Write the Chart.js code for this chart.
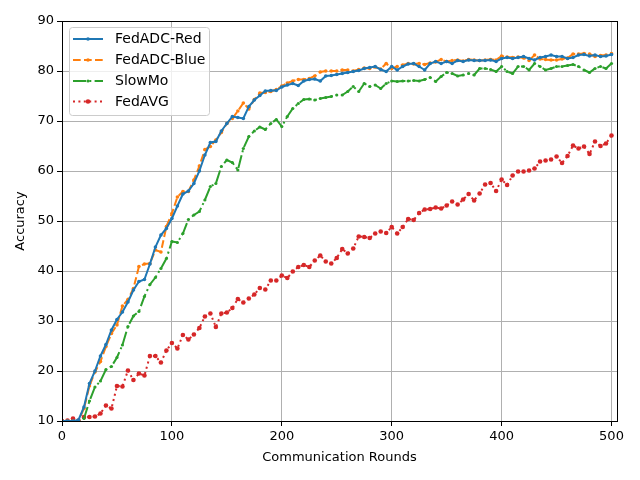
<!DOCTYPE html>
<html>
<head>
<meta charset="utf-8">
<script src="https://cdn.jsdelivr.net/npm/chart.js@4.4.1/dist/chart.umd.min.js"></script>
<style>
  html, body { margin: 0; padding: 0; background: #ffffff; }
  #wrap { width: 640px; height: 480px; }
</style>
</head>
<body>
<div id="wrap"><canvas id="accChart" width="640" height="480"></canvas></div>
<script>
// Communication rounds (x values)
const rounds = [
  0, 5, 10, 15, 20, 25, 30, 35, 40, 45, 50, 55, 60, 65, 70, 75, 80, 85, 90, 95,
  100, 105, 110, 115, 120, 125, 130, 135, 140, 145, 150, 155, 160, 165, 170, 175, 180, 185, 190, 195,
  200, 205, 210, 215, 220, 225, 230, 235, 240, 245, 250, 255, 260, 265, 270, 275, 280, 285, 290, 295,
  300, 305, 310, 315, 320, 325, 330, 335, 340, 345, 350, 355, 360, 365, 370, 375, 380, 385, 390, 395,
  400, 405, 410, 415, 420, 425, 430, 435, 440, 445, 450, 455, 460, 465, 470, 475, 480, 485, 490, 495,
  500
];

const fedAdcRed = [
  10, 10, 10, 10.2, 12.8, 17.5, 20, 23, 25.3, 28.2, 30.3, 31.8, 33.8, 36.2, 37.9, 38.3, 41.4, 44.8, 47.2, 48.5,
  50.5, 53, 55.4, 56, 57.5, 60, 63.2, 65.7, 65.9, 68, 69.5, 70.9, 70.7, 70.5, 72.9, 74.2, 75.1, 76, 76.1, 76.1,
  76.8, 77.2, 77.5, 77.1, 78, 78.3, 78.4, 78, 79, 79.1, 79.3, 79.5, 79.7, 79.9, 80.1, 80.5, 80.7, 80.9, 80.3, 79.9,
  80.9, 80.2, 80.9, 81.4, 81.5, 80.9, 80.2, 81.5, 81.9, 81.5, 81.9, 81.5, 82.1, 81.9, 82.2, 82.1, 82.1, 82.1, 82.2, 81.9,
  82.5, 82.7, 82.5, 82.7, 82.9, 82.5, 82.2, 82.7, 82.9, 83.2, 82.9, 82.9, 82.5, 82.7, 83.2, 83.3, 83, 83.2, 82.9, 83,
  83.3
];

const fedAdcBlue = [
  10, 10, 10, 10, 12.5, 17, 19.8, 21.9, 24.9, 27.5, 29.2, 33, 34.3, 36.5, 40.9, 41.4, 41.5, 44.2, 43.8, 48.9,
  51.5, 54.8, 55.9, 55.9, 58.2, 61, 64.3, 64.9, 66.2, 67.7, 69.5, 70.5, 72, 73.6, 72.4, 74.3, 75.6, 75.7, 75.9, 76.3,
  77, 77.6, 78, 78.3, 78.3, 78.5, 79, 79.8, 80, 80, 80, 80.2, 80.2, 80, 80.3, 80.6, 80.5, 80.8, 80.4, 81.5,
  80.5, 80.9, 81.2, 81.5, 81.4, 81.5, 81.3, 81.6, 81.8, 82.3, 81.9, 82.1, 82.2, 82, 82.3, 82.2, 82.1, 82.2, 82.3, 82.2,
  83, 82.8, 82.7, 82.8, 82.6, 82.1, 83.2, 82.4, 82.3, 82.2, 82.2, 82.4, 82.6, 83.4, 83.4, 83.5, 83.4, 82.9, 83.1, 83.2,
  83.5
];

const slowMo = [
  10, 10, 10, 10, 10.5, 14, 16.8, 18, 20.3, 20.9, 22.7, 25.2, 28.9, 31, 31.9, 34.9, 37.3, 38.7, 40.5, 42.5,
  45.9, 45.7, 47.5, 50.3, 51.2, 51.9, 54.2, 56.9, 57.5, 60.9, 62.2, 61.7, 60.2, 64.5, 66.9, 68, 68.8, 68.3, 69.5, 70.3,
  68.9, 70.9, 72.5, 73.5, 74.3, 74.4, 74.2, 74.5, 74.7, 74.9, 75.2, 75.2, 75.9, 76.9, 75.9, 77.5, 76.9, 77.2, 76.5, 77.5,
  78, 77.9, 78, 78, 78.1, 78, 78.3, 78.7, 77.9, 78.9, 79.7, 79.5, 79, 79.2, 79.5, 79.2, 80.5, 80.5, 80.3, 79.9,
  80.9, 79.9, 79.5, 80.9, 80.9, 80.2, 81.5, 80.9, 80.2, 80.5, 80.9, 80.9, 81.1, 81.3, 80.9, 80.2, 79.7, 80.5, 80.9, 80.5,
  81.5
];

const fedAvg = [
  10, 10.1, 10.5, 10.1, 10.8, 10.8, 10.9, 11.5, 13.1, 12.5, 17, 16.9, 20.1, 18.2, 19.5, 19.1, 23, 23, 21.7, 24.1,
  25.6, 24.5, 27.2, 26.3, 27.3, 28.6, 30.9, 31.5, 28.8, 31.5, 31.7, 32.6, 34.4, 33.7, 34.5, 35.3, 36.6, 36.3, 38.1, 38.1,
  39.1, 38.6, 39.9, 40.8, 41.2, 40.8, 42.1, 43.1, 41.9, 41.5, 42.6, 44.4, 43.5, 44.5, 46.9, 46.8, 46.6, 47.5, 47.9, 47.6,
  48.8, 47.5, 48.8, 50.4, 50.2, 51.6, 52.3, 52.4, 52.7, 52.5, 53.1, 53.9, 53.3, 54.3, 55.4, 54.1, 55.5, 57.3, 57.6, 56,
  58.3, 57.2, 59.1, 59.9, 59.9, 60.1, 60.5, 61.9, 62.1, 62.3, 62.9, 61.6, 63, 65.1, 64.5, 64.9, 63.4, 65.9, 65, 65.5,
  67.1
];

const seriesNames = ['FedADC-Red', 'FedADC-Blue', 'SlowMo', 'FedAVG'];
const xTicks = [0, 100, 200, 300, 400, 500];
const yTicks = [10, 20, 30, 40, 50, 60, 70, 80, 90];

const FONT = 'DejaVu Sans';

function toPoints(values) {
  return values.map((v, i) => ({ x: rounds[i], y: v }));
}

function makeDataset(label, values, color, dash, radius) {
  return {
    label: label,
    data: toPoints(values),
    borderColor: color,
    backgroundColor: color,
    borderWidth: 2,
    borderDash: dash,
    pointRadius: radius,
    pointHoverRadius: radius,
    pointBorderWidth: 0,
    pointBackgroundColor: color,
    tension: 0,
    fill: false
  };
}

const datasets = [
  makeDataset(seriesNames[0], fedAdcRed, '#1f77b4', [], 1.8),
  makeDataset(seriesNames[1], fedAdcBlue, '#ff7f0e', [7.7, 3.3], 1.8),
  makeDataset(seriesNames[2], slowMo, '#2ca02c', [13, 3.3, 2, 3.3], 1.6),
  makeDataset(seriesNames[3], fedAvg, '#d62728', [2, 3.4], 2.3)
];

// frame around the plot area plus a matplotlib-like legend box
const framePlugin = {
  id: 'frame',
  afterDraw(chart) {
    const { ctx, chartArea } = chart;
    ctx.save();
    ctx.strokeStyle = '#000000';
    ctx.lineWidth = 1;
    ctx.setLineDash([]);
    ctx.strokeRect(chartArea.left + 0.5, chartArea.top + 0.5,
      chartArea.right - chartArea.left, chartArea.bottom - chartArea.top);

    // legend
    const bx = 69.5, by = 27.5, bw = 140, bh = 88, r = 3;
    ctx.beginPath();
    ctx.moveTo(bx + r, by);
    ctx.lineTo(bx + bw - r, by);
    ctx.quadraticCurveTo(bx + bw, by, bx + bw, by + r);
    ctx.lineTo(bx + bw, by + bh - r);
    ctx.quadraticCurveTo(bx + bw, by + bh, bx + bw - r, by + bh);
    ctx.lineTo(bx + r, by + bh);
    ctx.quadraticCurveTo(bx, by + bh, bx, by + bh - r);
    ctx.lineTo(bx, by + r);
    ctx.quadraticCurveTo(bx, by, bx + r, by);
    ctx.closePath();
    ctx.fillStyle = 'rgba(255,255,255,0.8)';
    ctx.fill();
    ctx.strokeStyle = '#cccccc';
    ctx.stroke();

    const rowY = [39, 60, 81, 101.5];
    chart.data.datasets.forEach((ds, i) => {
      const y = rowY[i];
      ctx.beginPath();
      ctx.setLineDash(ds.borderDash);
      ctx.strokeStyle = ds.borderColor;
      ctx.lineWidth = 2;
      ctx.moveTo(73, y);
      ctx.lineTo(103, y);
      ctx.stroke();
      ctx.setLineDash([]);
      ctx.beginPath();
      ctx.fillStyle = ds.borderColor;
      ctx.arc(88, y, ds.pointRadius, 0, Math.PI * 2);
      ctx.fill();
      ctx.fillStyle = '#000000';
      ctx.font = '14px "' + FONT + '"';
      ctx.textBaseline = 'middle';
      ctx.textAlign = 'left';
      ctx.fillText(ds.label, 115, y + 0.5);
    });
    ctx.restore();
  }
};

const ctx = document.getElementById('accChart').getContext('2d');
new Chart(ctx, {
  type: 'line',
  data: { datasets: datasets },
  options: {
    responsive: false,
    animation: false,
    devicePixelRatio: 1,
    layout: { padding: { top: 21, right: 23, left: 0, bottom: 0 } },
    plugins: {
      legend: { display: false },
      tooltip: { enabled: false }
    },
    scales: {
      x: {
        type: 'linear',
        min: 0,
        max: 505,
        afterBuildTicks(scale) {
          scale.ticks = xTicks.map(v => ({ value: v }));
        },
        afterFit(scale) { scale.height = 59; },
        grid: {
          color: '#b0b0b0',
          lineWidth: 1,
          tickColor: '#000000',
          tickLength: 5,
          drawTicks: true
        },
        border: { display: true, color: '#000000', width: 1 },
        ticks: {
          color: '#000000',
          font: { family: FONT, size: 13 },
          padding: 3,
          maxRotation: 0,
          callback: v => v
        },
        title: {
          display: true,
          text: 'Communication Rounds',
          color: '#000000',
          font: { family: FONT, size: 13 },
          padding: { top: 0, bottom: 15 }
        }
      },
      y: {
        type: 'linear',
        min: 10,
        max: 90,
        afterBuildTicks(scale) {
          scale.ticks = yTicks.map(v => ({ value: v }));
        },
        afterFit(scale) { scale.width = 62; },
        grid: {
          color: '#b0b0b0',
          lineWidth: 1,
          tickColor: '#000000',
          tickLength: 5,
          drawTicks: true
        },
        border: { display: true, color: '#000000', width: 1 },
        ticks: {
          color: '#000000',
          font: { family: FONT, size: 13 },
          padding: 3,
          callback: v => v
        },
        title: {
          display: true,
          text: 'Accuracy',
          color: '#000000',
          font: { family: FONT, size: 13 },
          padding: { top: 13, bottom: 0 }
        }
      }
    }
  },
  plugins: [framePlugin]
});
</script>
</body>
</html>
